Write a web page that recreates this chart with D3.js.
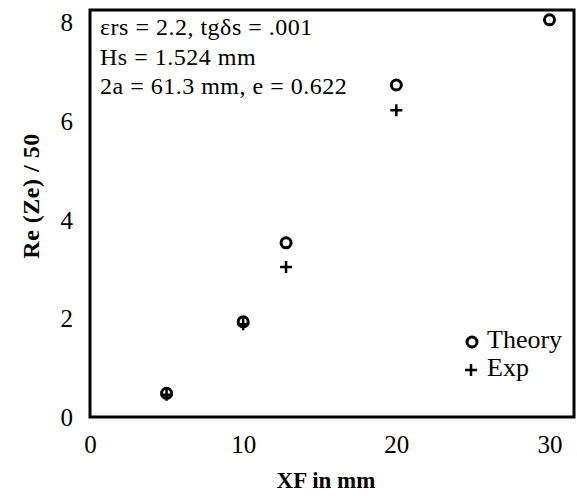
<!DOCTYPE html>
<html>
<head>
<meta charset="utf-8">
<script src="https://cdn.jsdelivr.net/npm/d3@7"></script>
<style>
  html, body { margin: 0; padding: 0; background: #fff; }
  svg { display: block; }
  text { font-family: "Liberation Serif", "DejaVu Serif", serif; fill: #000; }
</style>
</head>
<body>
<svg id="chart" width="577" height="496"></svg>
<script>
// ---- data ----
const theoryX = [5, 10, 12.8, 20, 30];
const theoryY = [0.48, 1.93, 3.53, 6.73, 8.05];
const expX = [5, 10, 12.8, 20];
const expY = [0.45, 1.88, 3.04, 6.22];
const xTicks = [0, 10, 20, 30];
const yTicks = [0, 2, 4, 6, 8];
const annotation = ["εrs = 2.2, tgδs = .001", "Hs = 1.524 mm", "2a = 61.3 mm, e = 0.622"];
const legendLabels = ["Theory", "Exp"];
const xTitle = "XF in mm";
const yTitle = "Re (Ze) / 50";

// ---- layout ----
const svg = d3.select("#chart");
const mLeft = 90, mRight = 574, mTop = 10, mBottom = 417;
const x = d3.scaleLinear().domain([0, 31.6]).range([mLeft, mRight]);
const y = d3.scaleLinear().domain([0, 8.25]).range([mBottom, mTop]);

// frame
svg.append("rect")
  .attr("x", mLeft).attr("y", mTop)
  .attr("width", mRight - mLeft).attr("height", mBottom - mTop)
  .attr("fill", "none").attr("stroke", "#000").attr("stroke-width", 3);

// x axis (labels only)
const xAxis = d3.axisBottom(x).tickValues(xTicks).tickSize(0).tickPadding(0).tickFormat(d3.format("d"));
const gx = svg.append("g").attr("transform", `translate(0,${mBottom})`).call(xAxis);
gx.select(".domain").remove();
gx.selectAll("text").attr("dy", null).attr("y", 36)
  .style("font-family", '"Liberation Serif", serif').style("font-size", "25px").attr("fill", "#000");

// y axis (labels only)
const yAxis = d3.axisLeft(y).tickValues(yTicks).tickSize(0).tickPadding(0).tickFormat(d3.format("d"));
const gy = svg.append("g").attr("transform", `translate(${mLeft},0)`).call(yAxis);
gy.select(".domain").remove();
gy.selectAll("text").attr("x", -17).attr("dy", "0.34em")
  .style("font-family", '"Liberation Serif", serif').style("font-size", "25px").attr("fill", "#000");

// axis titles
svg.append("text")
  .attr("x", 326).attr("y", 488)
  .attr("text-anchor", "middle")
  .style("font-size", "23px").style("font-weight", "bold")
  .text(xTitle);
svg.append("text")
  .attr("transform", `translate(39,196) rotate(-90)`)
  .attr("text-anchor", "middle")
  .style("font-size", "24px").style("font-weight", "bold")
  .style("letter-spacing", "0.5px")
  .text(yTitle);

// annotation
svg.append("g").selectAll("text").data(annotation).join("text")
  .attr("x", 100).attr("y", (d, i) => 35 + i * 29.5)
  .style("font-size", "24px")
  .style("letter-spacing", "0.5px")
  .text(d => d);

// theory points (open circles)
svg.append("g").selectAll("circle").data(theoryX).join("circle")
  .attr("cx", (d) => x(d)).attr("cy", (d, i) => y(theoryY[i]))
  .attr("r", 5).attr("fill", "none").attr("stroke", "#000").attr("stroke-width", 3);

// exp points (plus)
svg.append("g").selectAll("path").data(expX).join("path")
  .attr("transform", (d, i) => `translate(${x(d)},${y(expY[i])})`)
  .attr("d", "M-6,0H6M0,-6V6")
  .attr("stroke", "#000").attr("stroke-width", 2.5).attr("fill", "none");

// legend
const lg = svg.append("g");
lg.append("circle").attr("cx", 472).attr("cy", 342).attr("r", 5)
  .attr("fill", "none").attr("stroke", "#000").attr("stroke-width", 3);
lg.append("path").attr("transform", "translate(471,370)").attr("d", "M-6,0H6M0,-6V6")
  .attr("stroke", "#000").attr("stroke-width", 2.5);
lg.selectAll("text").data(legendLabels).join("text")
  .attr("x", 487).attr("y", (d, i) => 340 + i * 28)
  .attr("dy", "0.3em")
  .style("font-size", "26px")
  .text(d => d);
</script>
</body>
</html>
